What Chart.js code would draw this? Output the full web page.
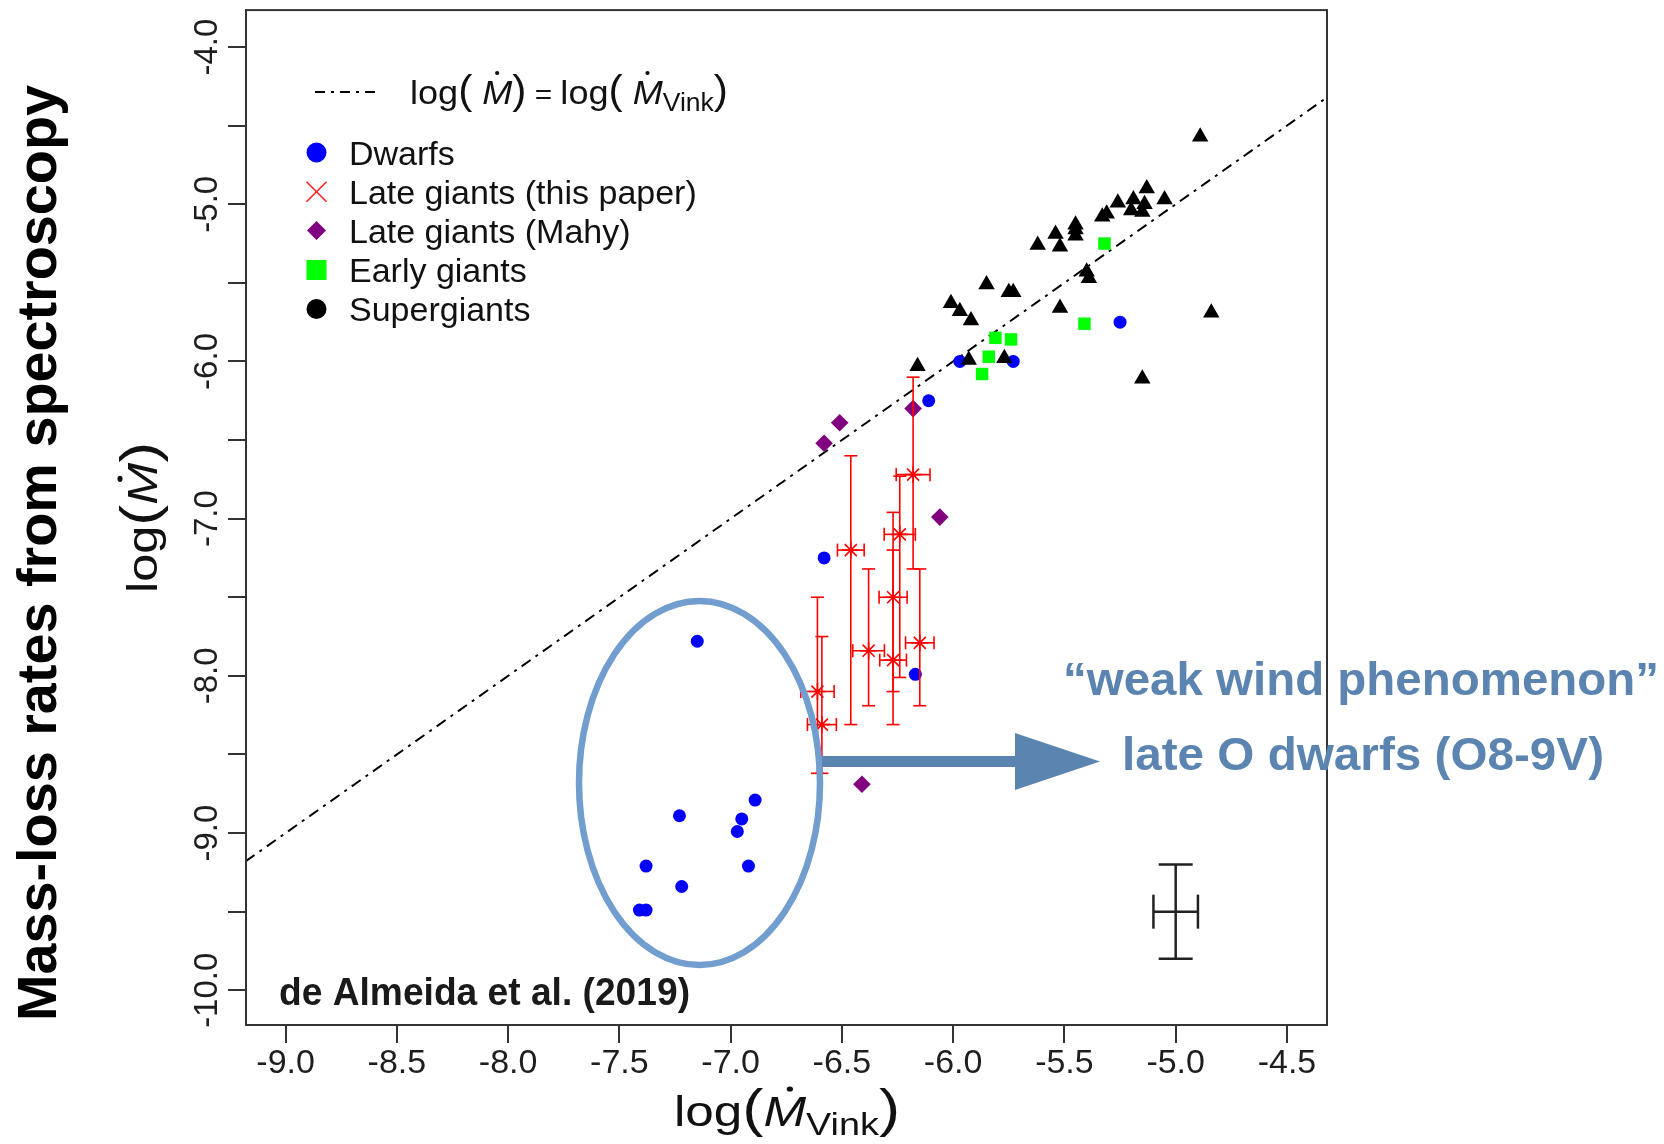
<!DOCTYPE html>
<html>
<head>
<meta charset="utf-8">
<script src="https://cdn.jsdelivr.net/npm/chart.js@4"></script>
<style>
  html, body { margin: 0; padding: 0; background: #fff; }
  #wrap { width: 1664px; height: 1144px; position: relative; }
</style>
</head>
<body>
<div id="wrap"><canvas id="massChart"></canvas></div>
<script>
// axis ticks
const xTickVals = [-9.0, -8.5, -8.0, -7.5, -7.0, -6.5, -6.0, -5.5, -5.0, -4.5];
const yTickVals = [-4.0, -4.5, -5.0, -5.5, -6.0, -6.5, -7.0, -7.5, -8.0, -8.5, -9.0, -9.5, -10.0];
const yLabelVals = [-4.0, -5.0, -6.0, -7.0, -8.0, -9.0, -10.0];

// log(Mdot) = log(Mdot_Vink)
const refX = [-9.18, -4.32];
const refY = [-9.18, -4.32];

// Dwarfs
const dwX = [-7.15, -6.89, -7.23, -6.95, -6.97, -7.38, -6.92, -7.22, -7.41, -7.38, -6.11, -6.58, -6.17, -5.97, -5.73, -5.25];
const dwY = [-7.78, -8.79, -8.89, -8.91, -8.99, -9.21, -9.21, -9.34, -9.49, -9.49, -6.25, -7.25, -7.99, -6.00, -6.00, -5.75];

// Late giants (this paper) with error bars
const lgX = [-6.18, -6.24, -6.46, -6.27, -6.38, -6.15, -6.27, -6.61, -6.59];
const lgY = [-6.72, -7.10, -7.20, -7.50, -7.84, -7.79, -7.90, -8.10, -8.31];
const lgXErr = [0.076, 0.070, 0.060, 0.063, 0.071, 0.064, 0.060, 0.075, 0.065];
const lgYHi = [-6.10, -6.73, -6.60, -6.96, -7.32, -7.32, -7.20, -7.50, -7.75];
const lgYLo = [-7.32, -8.01, -8.31, -8.10, -8.19, -8.19, -8.31, -8.62, -8.62];

// Late giants (Mahy)
const mhX = [-6.51, -6.58, -6.18, -6.06, -6.41];
const mhY = [-6.39, -6.52, -6.30, -6.99, -8.69];

// Early giants
const egX = [-5.32, -5.41, -5.81, -5.74, -5.84, -5.87];
const egY = [-5.25, -5.76, -5.85, -5.86, -5.97, -6.08];

// Supergiants
const sgX = [-4.89, -5.13, -5.05, -5.19, -5.26, -5.14, -5.20, -5.15, -5.31, -5.33, -5.45, -5.45, -5.45, -5.54, -5.62, -5.52, -5.40, -5.39, -5.85, -5.75, -5.73, -6.01, -5.97, -5.92, -5.52, -4.84, -5.93, -5.77, -6.16, -5.15];
const sgY = [-4.57, -4.90, -4.97, -4.97, -4.99, -5.00, -5.04, -5.05, -5.06, -5.08, -5.13, -5.16, -5.20, -5.19, -5.26, -5.27, -5.43, -5.47, -5.51, -5.56, -5.56, -5.63, -5.68, -5.74, -5.66, -5.69, -5.99, -5.98, -6.03, -6.11];

// typical error (bottom right)
const tyX = [-5.0];
const tyY = [-9.5];
const tyXErr = [0.1];
const tyYErr = [0.3];

const FONT = '"Liberation Sans", Arial, sans-serif';
const pts = (xs, ys) => xs.map((x, i) => ({ x: x, y: ys[i] }));

// text pieces with optional dot over M, squeezed/stretched to a width
function drawMath(ctx, pieces, x, y, width) {
  let total = 0;
  pieces.forEach(p => {
    ctx.font = p.font;
    p.w = ctx.measureText(p.t).width;
    total += p.w;
  });
  const sx = width ? width / total : 1;
  ctx.save();
  ctx.translate(x, y);
  ctx.scale(sx, 1);
  ctx.textAlign = 'left';
  ctx.textBaseline = 'alphabetic';
  let cx = 0;
  pieces.forEach(p => {
    ctx.font = p.font;
    ctx.fillText(p.t, cx, p.dy || 0);
    if (p.dot) {
      ctx.beginPath();
      ctx.arc(cx + p.w * 0.62, -p.dot, p.dotR || 2, 0, Math.PI * 2);
      ctx.fill();
    }
    cx += p.w;
  });
  ctx.restore();
}

function fitText(ctx, s, x, y, font, width) {
  ctx.save();
  ctx.font = font;
  const w = ctx.measureText(s).width;
  ctx.translate(x, y);
  ctx.scale(width / w, 1);
  ctx.textAlign = 'left';
  ctx.textBaseline = 'alphabetic';
  ctx.fillText(s, 0, 0);
  ctx.restore();
}

function bar(ctx, x1, y1, x2, y2) {
  ctx.beginPath();
  ctx.moveTo(x1, y1);
  ctx.lineTo(x2, y2);
  ctx.stroke();
}

// error bars + box + annotations
const extras = {
  id: 'extras',
  afterDatasetsDraw(chart) {
    const ctx = chart.ctx, xs = chart.scales.x, ys = chart.scales.y;
    ctx.save();
    ctx.strokeStyle = '#ff0000';
    ctx.lineWidth = 1.6;
    lgX.forEach((v, i) => {
      const px = xs.getPixelForValue(v), py = ys.getPixelForValue(lgY[i]);
      const x1 = xs.getPixelForValue(v - lgXErr[i]), x2 = xs.getPixelForValue(v + lgXErr[i]);
      const yh = ys.getPixelForValue(lgYHi[i]), yl = ys.getPixelForValue(lgYLo[i]);
      bar(ctx, px, yh, px, yl);
      bar(ctx, px - 6.5, yh, px + 6.5, yh);
      bar(ctx, px - 6.5, yl, px + 6.5, yl);
      bar(ctx, x1, py, x2, py);
      bar(ctx, x1, py - 6.5, x1, py + 6.5);
      bar(ctx, x2, py - 6.5, x2, py + 6.5);
    });
    ctx.strokeStyle = '#222';
    ctx.lineWidth = 2.5;
    tyX.forEach((v, i) => {
      const px = xs.getPixelForValue(v), py = ys.getPixelForValue(tyY[i]);
      const x1 = xs.getPixelForValue(v - tyXErr[i]), x2 = xs.getPixelForValue(v + tyXErr[i]);
      const yh = ys.getPixelForValue(tyY[i] + tyYErr[i]), yl = ys.getPixelForValue(tyY[i] - tyYErr[i]);
      bar(ctx, px, yh, px, yl);
      bar(ctx, px - 17, yh, px + 17, yh);
      bar(ctx, px - 17, yl, px + 17, yl);
      bar(ctx, x1, py, x2, py);
      bar(ctx, x1, py - 17, x1, py + 17);
      bar(ctx, x2, py - 17, x2, py + 17);
    });
    ctx.restore();
  },
  afterDraw(chart) {
    const ctx = chart.ctx, a = chart.chartArea, ys = chart.scales.y;
    ctx.save();
    // box
    ctx.strokeStyle = '#333';
    ctx.lineWidth = 2;
    ctx.strokeRect(a.left, a.top, a.right - a.left, a.bottom - a.top);

    // y tick labels, rotated like R
    ctx.fillStyle = '#1e1e1e';
    ctx.font = '33px ' + FONT;
    ctx.textAlign = 'center';
    ctx.textBaseline = 'middle';
    yLabelVals.forEach(v => {
      ctx.save();
      ctx.translate(208, ys.getPixelForValue(v));
      ctx.rotate(-Math.PI / 2);
      ctx.fillText(v.toFixed(1), 0, 0);
      ctx.restore();
    });

    // axis titles
    ctx.fillStyle = '#111';
    drawMath(ctx, [
      { t: 'log', font: '42px ' + FONT },
      { t: '(', font: '52px ' + FONT },
      { t: 'M', font: 'italic 42px ' + FONT, dot: 37, dotR: 2.6 },
      { t: 'Vink', font: '31px ' + FONT, dy: 9 },
      { t: ')', font: '52px ' + FONT }
    ], 674, 1126, 226);

    ctx.save();
    ctx.translate(157, 593);
    ctx.rotate(-Math.PI / 2);
    drawMath(ctx, [
      { t: 'log', font: '42px ' + FONT },
      { t: '(', font: '52px ' + FONT },
      { t: 'M', font: 'italic 42px ' + FONT, dot: 37, dotR: 2.6 },
      { t: ')', font: '52px ' + FONT }
    ], 0, 0, 151);
    ctx.restore();

    ctx.save();
    ctx.fillStyle = '#000';
    ctx.translate(56, 1021);
    ctx.rotate(-Math.PI / 2);
    fitText(ctx, 'Mass-loss rates from spectroscopy', 0, 0, 'bold 55px ' + FONT, 936);
    ctx.restore();

    // citation
    ctx.fillStyle = '#1a1a1a';
    fitText(ctx, 'de Almeida et al. (2019)', 279, 1005, 'bold 38px ' + FONT, 411);

    // legend
    ctx.strokeStyle = '#000';
    ctx.lineWidth = 2;
    ctx.setLineDash([10, 6, 3, 6]);
    bar(ctx, 315, 92, 378, 92);
    ctx.setLineDash([]);
    ctx.fillStyle = '#111';
    drawMath(ctx, [
      { t: 'log', font: '34px ' + FONT },
      { t: '(', font: '40px ' + FONT },
      { t: ' M', font: 'italic 34px ' + FONT, dot: 31, dotR: 2 },
      { t: ')', font: '40px ' + FONT },
      { t: ' = ', font: '28px ' + FONT },
      { t: 'log', font: '34px ' + FONT },
      { t: '(', font: '40px ' + FONT },
      { t: ' M', font: 'italic 34px ' + FONT, dot: 31, dotR: 2 },
      { t: 'Vink', font: '25px ' + FONT, dy: 7 },
      { t: ')', font: '40px ' + FONT }
    ], 410, 104, 318);

    const mx = 316.5;
    const rows = [152.5, 191.7, 230.5, 270, 309];
    const names = ['Dwarfs', 'Late giants (this paper)', 'Late giants (Mahy)', 'Early giants', 'Supergiants'];
    ctx.fillStyle = '#0000ff';
    ctx.beginPath(); ctx.arc(mx, rows[0], 10, 0, Math.PI * 2); ctx.fill();
    ctx.strokeStyle = '#ff2020';
    ctx.lineWidth = 1.6;
    bar(ctx, mx - 10, rows[1] - 10, mx + 10, rows[1] + 10);
    bar(ctx, mx - 10, rows[1] + 10, mx + 10, rows[1] - 10);
    ctx.fillStyle = '#800080';
    ctx.beginPath();
    ctx.moveTo(mx, rows[2] - 9.5); ctx.lineTo(mx + 9.5, rows[2]);
    ctx.lineTo(mx, rows[2] + 9.5); ctx.lineTo(mx - 9.5, rows[2]);
    ctx.closePath(); ctx.fill();
    ctx.fillStyle = '#00ff00';
    ctx.fillRect(mx - 10, rows[3] - 10, 20, 20);
    ctx.fillStyle = '#000';
    ctx.beginPath(); ctx.arc(mx, rows[4], 10, 0, Math.PI * 2); ctx.fill();

    ctx.fillStyle = '#111';
    ctx.font = '34px ' + FONT;
    ctx.textAlign = 'left';
    ctx.textBaseline = 'alphabetic';
    names.forEach((n, i) => {
      ctx.fillText(n, 349, rows[i] + 12);
    });

    // weak wind annotation
    ctx.strokeStyle = '#719dcf';
    ctx.lineWidth = 6.5;
    ctx.beginPath();
    ctx.ellipse(699.5, 783, 120.5, 182, 0, 0, Math.PI * 2);
    ctx.stroke();

    ctx.fillStyle = '#5b84b1';
    ctx.fillRect(822, 756, 195, 11);
    ctx.beginPath();
    ctx.moveTo(1015, 733); ctx.lineTo(1100, 761.5); ctx.lineTo(1015, 790);
    ctx.closePath(); ctx.fill();

    fitText(ctx, '\u201Cweak wind phenomenon\u201D', 1063, 695, 'bold 47px ' + FONT, 596);
    fitText(ctx, 'late O dwarfs (O8-9V)', 1122, 770, 'bold 47px ' + FONT, 482);
    ctx.restore();
  }
};

const ctx = document.getElementById('massChart');
new Chart(ctx, {
  type: 'scatter',
  data: {
    datasets: [
      {
        label: 'Supergiants',
        data: pts(sgX, sgY),
        pointStyle: 'triangle',
        radius: 9.5,
        backgroundColor: '#000',
        borderWidth: 0
      },
      {
        label: 'Dwarfs',
        data: pts(dwX, dwY),
        pointStyle: 'circle',
        radius: 6.5,
        backgroundColor: '#0000ff',
        borderWidth: 0
      },
      {
        label: 'Early giants',
        data: pts(egX, egY),
        pointStyle: 'rect',
        radius: 8.8,
        backgroundColor: '#00ff00',
        borderWidth: 0
      },
      {
        label: 'Late giants (this paper)',
        data: pts(lgX, lgY),
        pointStyle: 'star',
        radius: 8.5,
        borderColor: '#ff0000',
        borderWidth: 1.6
      },
      {
        label: 'Late giants (Mahy)',
        data: pts(mhX, mhY),
        pointStyle: 'rectRot',
        radius: 8.8,
        backgroundColor: '#800080',
        borderWidth: 0
      },
      {
        label: 'log(M) = log(M_Vink)',
        data: pts(refX, refY),
        showLine: true,
        borderColor: '#000',
        borderWidth: 2,
        borderDash: [11, 6, 3, 6],
        pointRadius: 0
      }
    ]
  },
  options: {
    responsive: true,
    maintainAspectRatio: false,
    devicePixelRatio: 1,
    animation: false,
    layout: { padding: { left: 186, right: 337, top: 10, bottom: 19 } },
    plugins: { legend: { display: false }, tooltip: { enabled: false } },
    scales: {
      x: {
        type: 'linear',
        min: -9.178,
        max: -4.32,
        afterBuildTicks: s => { s.ticks = xTickVals.map(v => ({ value: v })); },
        afterFit: s => { s.height = 100; },
        grid: { drawOnChartArea: false, drawTicks: true, tickLength: 18, color: '#333', lineWidth: 2 },
        border: { display: true, color: '#333', width: 2 },
        ticks: {
          autoSkip: false,
          maxRotation: 0,
          padding: 0,
          color: '#1e1e1e',
          font: { family: FONT, size: 34 },
          callback: v => Number(v).toFixed(1)
        }
      },
      y: {
        type: 'linear',
        min: -10.221,
        max: -3.765,
        afterBuildTicks: s => { s.ticks = yTickVals.map(v => ({ value: v })); },
        afterFit: s => { s.width = 60; },
        grid: { drawOnChartArea: false, drawTicks: true, tickLength: 18, color: '#333', lineWidth: 2 },
        border: { display: true, color: '#333', width: 2 },
        ticks: { display: false }
      }
    }
  },
  plugins: [extras]
});
</script>
</body>
</html>
